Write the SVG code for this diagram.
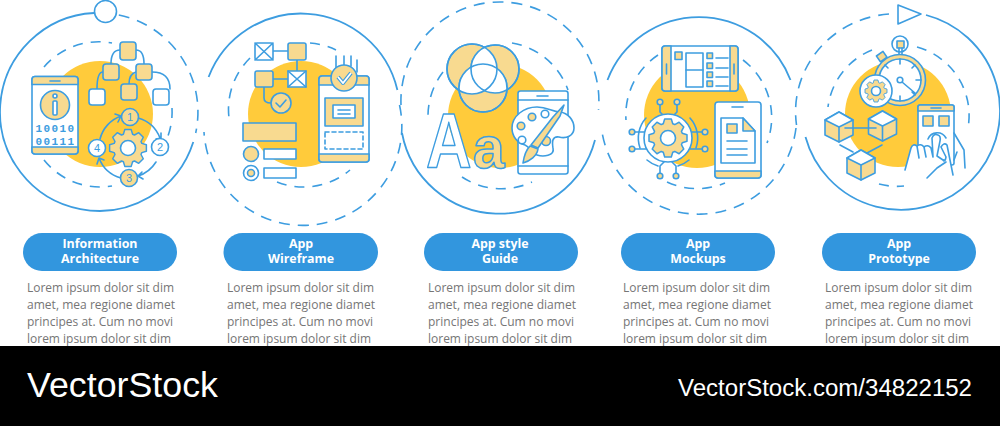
<svg xmlns="http://www.w3.org/2000/svg" width="1000" height="426" viewBox="0 0 1000 426">
<style>
.o{fill:none;stroke:#3d9de0;stroke-width:1.8}
.d{fill:none;stroke:#3d9de0;stroke-width:1.6;stroke-dasharray:11 8}
.i{fill:none;stroke:#3d9de0;stroke-width:1.6;stroke-dasharray:10 8}
.s{stroke:#3d9de0;stroke-width:1.6;stroke-linejoin:round;stroke-linecap:round}
.n{fill:none}.w{fill:#fff}.l{fill:#f8da90}.y{fill:#ffcb3b}
.pill{fill:#3296de}
.t{font:700 12.4px "Open Sans","Noto Sans",sans-serif;fill:#fff;text-anchor:middle}
.b{font:400 12.6px "Open Sans","Noto Sans",sans-serif;fill:#767676}
.c{font:400 11px "Liberation Sans",sans-serif;fill:#3d9de0;text-anchor:middle}
.m{font:700 11px "Liberation Mono",monospace;fill:#3d9de0;text-anchor:middle;letter-spacing:1.4px}
</style>
<defs>
<polygon id="gear" points="-5,-15 -3.5,-20 3.5,-20 5,-15 7.07,-14.14 11.67,-16.62 16.62,-11.67 14.14,-7.07 15,-5 20,-3.5 20,3.5 15,5 14.14,7.07 16.62,11.67 11.67,16.62 7.07,14.14 5,15 3.5,20 -3.5,20 -5,15 -7.07,14.14 -11.67,16.62 -16.62,11.67 -14.14,7.07 -15,5 -20,3.5 -20,-3.5 -15,-5 -14.14,-7.07 -16.62,-11.67 -11.67,-16.62 -7.07,-14.14"/>
<g id="cube"><path class="s l" d="M14,0 28,8 28,23 14,30 0,23 0,8Z"/><path class="s w" d="M14,0 28,8 14,15 0,8Z"/><path class="s n" d="M14,15V30"/></g>
<clipPath id="vl"><circle cx="472" cy="69" r="25"/></clipPath>
<clipPath id="vr"><circle cx="495" cy="69" r="24"/></clipPath>
</defs>
<rect width="1000" height="426" fill="#fff"/>
<g id="connectors">
<path class="o" d="M94,13A99,99 0 1 0 193.3,142"/>
<path class="d" d="M118.8,15A99,99 0 0 1 195.700,133"/>
<path class="o" d="M208.600,77A99,99 0 0 1 397.400,90"/>
<path class="d" d="M399.500,105A99,99 0 1 1 204,132"/>
<path class="d" d="M401,105A99,99 0 1 1 598.500,110"/>
<path class="o" d="M402,133A99,99 0 0 0 595,140"/>
<path class="o" d="M607.500,80A98,98 0 0 1 790.500,80"/>
<path class="d" d="M796,128A98,98 0 0 1 602,132"/>
<path class="d" d="M889,14A101,98 0 0 0 796.500,125"/>
<path class="o" d="M926,15A99,99 0 1 1 805.500,137"/>
</g>
<g id="step-1">
<circle class="s w" cx="105.500" cy="11.500" r="11"/>
<circle class="y" cx="100" cy="114" r="53"/>
<path class="i" d="M44,67A72,72 0 0 1 112,43M172,108A72,72 0 0 1 168,136M44,160A72,72 0 0 0 112,186"/>
<rect class="s w" x="32" y="76.500" width="46" height="77.500" rx="3"/>
<path class="s l" d="M32,84.500V79.500a3,3 0 0 1 3,-3H75a3,3 0 0 1 3,3V84.500ZM32,147V151a3,3 0 0 0 3,3H75a3,3 0 0 0 3,-3V147Z"/>
<path class="s n" d="M50,81H60"/>
<circle class="s l" cx="55" cy="105" r="14.500"/>
<circle class="s w" cx="55" cy="96" r="2"/><rect class="s w" x="53" y="101" width="4" height="14" rx="1"/>
<text class="m" x="55.500" y="131.500">10010</text><text class="m" x="55.500" y="144.500">00111</text>
<path class="s n" d="M120,50Q111,50 111,64M136,50Q144,50 144,64M103,72Q97,72 97,89M136,72Q129,74 129,84M152,72Q170,72 170,89"/>
<rect class="s l" x="120" y="42" width="16" height="18" rx="3"/>
<rect class="s l" x="103" y="64" width="16" height="16" rx="3"/>
<rect class="s l" x="136" y="64" width="16" height="16" rx="3"/>
<rect class="s l" x="121" y="84" width="16" height="16" rx="3"/>
<rect class="s w" x="89" y="89" width="16" height="16" rx="3"/>
<rect class="s w" x="153" y="89" width="16" height="16" rx="3"/>
<path class="s n" d="M138,118A33,33 0 0 1 160,138M156,139 161,138 161,133M156,162A33,33 0 0 1 138,176M142,172 138,176 143,179M121,178A33,33 0 0 1 99,158M97,164 99,158 104,160M100,139A33,33 0 0 1 121,116M115,114 121,116 118,122"/>
<use href="#gear" class="s l" transform="translate(128 148) scale(.92)"/>
<circle class="s w" cx="128" cy="148" r="7.500"/>
<circle class="s l" cx="130" cy="117" r="8.500"/><text class="c" x="130" y="121">1</text>
<circle class="s w" cx="160" cy="147" r="8.500"/><text class="c" x="160" y="151">2</text>
<circle class="s l" cx="129" cy="178" r="8.500"/><text class="c" x="129" y="182">3</text>
<circle class="s w" cx="97" cy="148" r="8.500"/><text class="c" x="97" y="152">4</text>
</g>
<g id="step-2">
<circle class="y" cx="301" cy="114" r="53"/>
<path class="i" d="M250,58A72,72 0 0 0 230,124M310,43A72,72 0 0 1 336,50M277,182A72,72 0 0 0 350,170"/>
<path class="s n" d="M273,51H288M297,60V71M273,79H288M264,87V98Q264,103 271,103"/>
<rect class="s w" x="255" y="43" width="18" height="17" rx="2"/><path class="s n" d="M255,43 273,60M273,43 255,60"/>
<rect class="s l" x="288" y="43" width="18" height="17" rx="2"/>
<rect class="s l" x="255" y="71" width="18" height="16" rx="2"/>
<rect class="s w" x="288" y="71" width="18" height="16"/><path class="s n" d="M288,71 306,87M306,71 288,87"/>
<circle class="s l" cx="281" cy="103" r="10"/><path class="s n" d="M276,103 280,107 286,100"/>
<rect class="s l" x="243" y="123" width="53" height="18"/>
<circle class="s l" cx="251" cy="154" r="7.500"/><rect class="s w" x="264" y="149" width="32" height="10"/>
<circle class="s w" cx="251" cy="173" r="7.500"/><circle class="s l" cx="251" cy="173" r="3.500"/><rect class="s w" x="264" y="168" width="32" height="10"/>
<path class="s n" d="M336,56V68M344,56V66M351,56V66M357,60V72"/>
<rect class="s w" x="319" y="76" width="50" height="86" rx="3"/>
<path class="s l" d="M319,85V79a3,3 0 0 1 3,-3H366a3,3 0 0 1 3,3V85ZM319,154V159a3,3 0 0 0 3,3H366a3,3 0 0 0 3,-3V154Z"/>
<rect class="s l" x="325" y="98" width="38" height="28"/><rect class="s w" x="333" y="105" width="22" height="13"/><path class="s n" d="M338,110H350M338,114H350"/>
<rect class="s n" x="325" y="132" width="38" height="17" stroke-dasharray="4 3"/>
<circle class="s l" cx="344" cy="78" r="13"/><path d="M338,77 343,83 351,73" fill="none" stroke="#3d9de0" stroke-width="4" stroke-linejoin="round"/><path d="M338,77 343,83 351,73" fill="none" stroke="#fff" stroke-width="1.8"/>
</g>
<g id="step-3">
<circle class="y" cx="500" cy="116" r="52"/>
<path class="i" d="M512,43A72,72 0 0 1 568,90M443,72A72,72 0 0 0 428,117M462,177A72,72 0 0 0 532,182"/>
<circle class="s l" cx="472" cy="69" r="25"/><circle class="s l" cx="495" cy="69" r="24"/><circle class="s l" cx="483" cy="88" r="24"/>
<circle class="w" cx="495" cy="69" r="24" clip-path="url(#vl)"/>
<circle class="w" cx="483" cy="88" r="24" clip-path="url(#vl)"/>
<circle class="w" cx="483" cy="88" r="24" clip-path="url(#vr)"/>
<circle class="s n" cx="472" cy="69" r="25"/><circle class="s n" cx="495" cy="69" r="24"/><circle class="s n" cx="483" cy="88" r="24"/>
<text transform="translate(426 168) scale(.82 1)" font-family="Liberation Sans,sans-serif" font-weight="700" font-size="77" class="s w">A</text>
<text transform="translate(473 168) scale(.95 1)" font-family="Liberation Sans,sans-serif" font-weight="700" font-size="60" class="s l">a</text>
<rect class="s w" x="518" y="91" width="50" height="83" rx="2.500"/><path class="s n" d="M518,100H568M518,166H568M537,96H548"/>
<path class="s w" d="M512,128C512,116 524,107 537,107C548,107 552,112 560,112C568,113 574,120 574,128C574,136 566,139 559,137C552,136 552,142 553,148C555,156 543,157 537,155C531,153 530,147 525,145C517,143 512,136 512,128Z"/>
<circle class="s l" cx="521" cy="126" r="3.800"/><circle class="s l" cx="532" cy="117" r="3.800"/><circle class="s w" cx="545" cy="114" r="3.800"/><circle class="s w" cx="522" cy="140" r="3.800"/><circle class="s l" cx="546" cy="141" r="4.500"/>
<path class="s l" d="M564,105 560,116 538,148 531,145 553,117Z"/>
<path class="s l" d="M530,146 538,149C537,156 530,161 523,163C524,156 526,150 530,146Z"/>
</g>
<g id="step-4">
<circle class="y" cx="697" cy="115" r="53"/>
<path class="i" d="M658,55A72,72 0 0 0 626,120M743,60A72,72 0 0 1 767,143M667,182A72,72 0 0 0 725,183"/>
<rect class="s w" x="662" y="46" width="76" height="45" rx="3"/>
<path class="s l" d="M671,46H665a3,3 0 0 0 -3,3V88a3,3 0 0 0 3,3H671ZM730,46H735a3,3 0 0 1 3,3V88a3,3 0 0 1 -3,3H730Z"/>
<path class="s n" d="M666.500,64V74M734,64V74"/>
<rect class="s l" x="675" y="52" width="7" height="7.500"/>
<rect class="s w" x="686" y="53" width="17" height="34"/><path class="s n" d="M686,70H703"/>
<rect class="s l" x="707" y="53" width="5.500" height="5.500"/><rect class="s l" x="707" y="63" width="5.500" height="5.500"/><rect class="s l" x="707" y="72" width="5.500" height="5.500"/><rect class="s l" x="707" y="81" width="5.500" height="5.500"/>
<path class="s n" d="M716,58H728M716,68H728M716,77H728M716,86H728"/>
<path class="s n" d="M660,105V112L664,116M677,105V112L673,116M635,132H644M635,149H646M702,132H692M702,149H690M660,173V166L664,162M676,173V166L672,162"/>
<path class="s n" d="M646,118A30,30 0 0 0 640,148M690,118A30,30 0 0 1 696,148M647,160A30,30 0 0 0 658,166M689,160A30,30 0 0 1 678,166"/>
<circle class="s w" cx="668" cy="138" r="24"/>
<use href="#gear" class="s l" transform="translate(668 138) scale(.95)"/>
<circle class="s w" cx="668" cy="138" r="7.500"/>
<circle class="s l" cx="660" cy="102" r="2.800"/><circle class="s l" cx="677" cy="102" r="2.800"/><circle class="s l" cx="632" cy="132" r="2.800"/><circle class="s l" cx="632" cy="149" r="2.800"/><circle class="s l" cx="705" cy="132" r="2.800"/><circle class="s l" cx="705" cy="149" r="2.800"/><circle class="s l" cx="660" cy="176" r="2.800"/><circle class="s l" cx="676" cy="176" r="2.800"/>
<rect class="s w" x="715" y="102" width="46" height="76" rx="3"/>
<path class="s l" d="M715,171V175a3,3 0 0 0 3,3H758a3,3 0 0 0 3,-3V171Z"/>
<path class="s n" d="M732,107H743"/>
<path class="s w" d="M721,118H743L755,131V163H721Z"/><path class="s l" d="M743,118 755,131H743Z"/>
<rect class="s l" x="727" y="124" width="10" height="9"/>
<path class="s n" d="M727,141H747M727,149H747M727,155H747"/>
</g>
<g id="step-5">
<path class="s w" d="M898,5 921,14 898,24Z"/>
<circle class="y" cx="898" cy="114" r="53"/>
<path class="i" d="M872,50A71,71 0 0 0 828,107M917,47A71,71 0 0 1 968,128M879,184A71,71 0 0 0 904,186"/>
<circle class="s w" cx="900" cy="44" r="8"/><rect class="s l" x="897" y="41" width="7" height="7"/><path class="s n" d="M899,48V55M902,48V55"/>
<rect class="s l" x="878" y="53" width="8" height="7" transform="rotate(-35 882 57)"/>
<circle class="s l" cx="900" cy="80" r="25.500"/><circle class="s w" cx="900" cy="80" r="21"/>
<path class="s n" d="M900,59V64M921,80H916M900,101V96M885,65 888,68M915,65 912,68M915,95 912,92M902,82 915,93"/>
<circle class="s w" cx="900" cy="80" r="2.800"/>
<circle class="s w" cx="876" cy="91" r="16"/>
<use href="#gear" class="s l" transform="translate(876 91) scale(.55)"/>
<circle class="s w" cx="876" cy="91" r="4.500"/>
<use href="#cube" x="825" y="112"/><use href="#cube" x="868.500" y="111"/><use href="#cube" x="847" y="150"/>
<path class="s n" d="M845,128H876M840,145 853,152M882,145 867,153"/>
<rect class="s w" x="918" y="105" width="36" height="60" rx="2"/>
<path class="s l" d="M918,111V107a2,2 0 0 1 2,-2H952a2,2 0 0 1 2,2V111Z"/>
<path class="s n" d="M931,108H941"/>
<rect class="s l" x="923" y="116" width="10" height="10"/><rect class="s l" x="939" y="116" width="10" height="10"/>
<path class="s n" d="M928,139A10,10 0 0 1 946,138"/>
<rect class="s l" x="937" y="160" width="10" height="5"/>
<path class="s w" d="M905,170 911,148Q913,143 917,146L919,158 917,146Q921,143 924,147L926,157 924,147Q928,144 931,148L933,157 932,138Q934,133 938,135Q941,136 940,141L937,156 943,160Q945,163 946,157L941,147Q944,142 947,145L953,175"/>
<path class="s n" d="M927,178 937,168 946,162M954,133 964,150 965,168M954,160 957,152"/>
</g>
<g id="labels">
<rect class="pill" x="23" y="233" width="154" height="38" rx="19"/><rect class="pill" x="223.500" y="233" width="154.500" height="38" rx="19"/><rect class="pill" x="424" y="233" width="154" height="38" rx="19"/><rect class="pill" x="621" y="233" width="154" height="38" rx="19"/><rect class="pill" x="822" y="233" width="154" height="38" rx="19"/>
<text class="t" x="100" y="248">Information</text><text class="t" x="100" y="263">Architecture</text>
<text class="t" x="301" y="248">App</text><text class="t" x="301" y="263">Wireframe</text>
<text class="t" x="500" y="248">App style</text><text class="t" x="500" y="263">Guide</text>
<text class="t" x="698" y="248">App</text><text class="t" x="698" y="263">Mockups</text>
<text class="t" x="899" y="248">App</text><text class="t" x="899" y="263">Prototype</text>
<text class="b" x="27" y="292" textLength="147" lengthAdjust="spacingAndGlyphs">Lorem ipsum dolor sit dim</text><text class="b" x="27" y="309" textLength="148" lengthAdjust="spacingAndGlyphs">amet, mea regione diamet</text><text class="b" x="27" y="326" textLength="146" lengthAdjust="spacingAndGlyphs">principes at. Cum no movi</text><text class="b" x="27" y="343" textLength="144" lengthAdjust="spacingAndGlyphs">lorem ipsum dolor sit dim</text>
<text class="b" x="227" y="292" textLength="147" lengthAdjust="spacingAndGlyphs">Lorem ipsum dolor sit dim</text><text class="b" x="227" y="309" textLength="148" lengthAdjust="spacingAndGlyphs">amet, mea regione diamet</text><text class="b" x="227" y="326" textLength="146" lengthAdjust="spacingAndGlyphs">principes at. Cum no movi</text><text class="b" x="227" y="343" textLength="144" lengthAdjust="spacingAndGlyphs">lorem ipsum dolor sit dim</text>
<text class="b" x="428" y="292" textLength="147" lengthAdjust="spacingAndGlyphs">Lorem ipsum dolor sit dim</text><text class="b" x="428" y="309" textLength="148" lengthAdjust="spacingAndGlyphs">amet, mea regione diamet</text><text class="b" x="428" y="326" textLength="146" lengthAdjust="spacingAndGlyphs">principes at. Cum no movi</text><text class="b" x="428" y="343" textLength="144" lengthAdjust="spacingAndGlyphs">lorem ipsum dolor sit dim</text>
<text class="b" x="623" y="292" textLength="147" lengthAdjust="spacingAndGlyphs">Lorem ipsum dolor sit dim</text><text class="b" x="623" y="309" textLength="148" lengthAdjust="spacingAndGlyphs">amet, mea regione diamet</text><text class="b" x="623" y="326" textLength="146" lengthAdjust="spacingAndGlyphs">principes at. Cum no movi</text><text class="b" x="623" y="343" textLength="144" lengthAdjust="spacingAndGlyphs">lorem ipsum dolor sit dim</text>
<text class="b" x="825" y="292" textLength="147" lengthAdjust="spacingAndGlyphs">Lorem ipsum dolor sit dim</text><text class="b" x="825" y="309" textLength="148" lengthAdjust="spacingAndGlyphs">amet, mea regione diamet</text><text class="b" x="825" y="326" textLength="146" lengthAdjust="spacingAndGlyphs">principes at. Cum no movi</text><text class="b" x="825" y="343" textLength="144" lengthAdjust="spacingAndGlyphs">lorem ipsum dolor sit dim</text>
</g>
<g id="band">
<rect x="0" y="346" width="1000" height="80" fill="#000"/>
<text x="27" y="397" fill="#fff" font-family="Liberation Sans,sans-serif" font-size="35" textLength="191" lengthAdjust="spacingAndGlyphs">VectorStock</text>
<text x="678" y="396" fill="#fff" font-family="Liberation Sans,sans-serif" font-size="23" textLength="294" lengthAdjust="spacingAndGlyphs">VectorStock.com/34822152</text>
</g>
</svg>
